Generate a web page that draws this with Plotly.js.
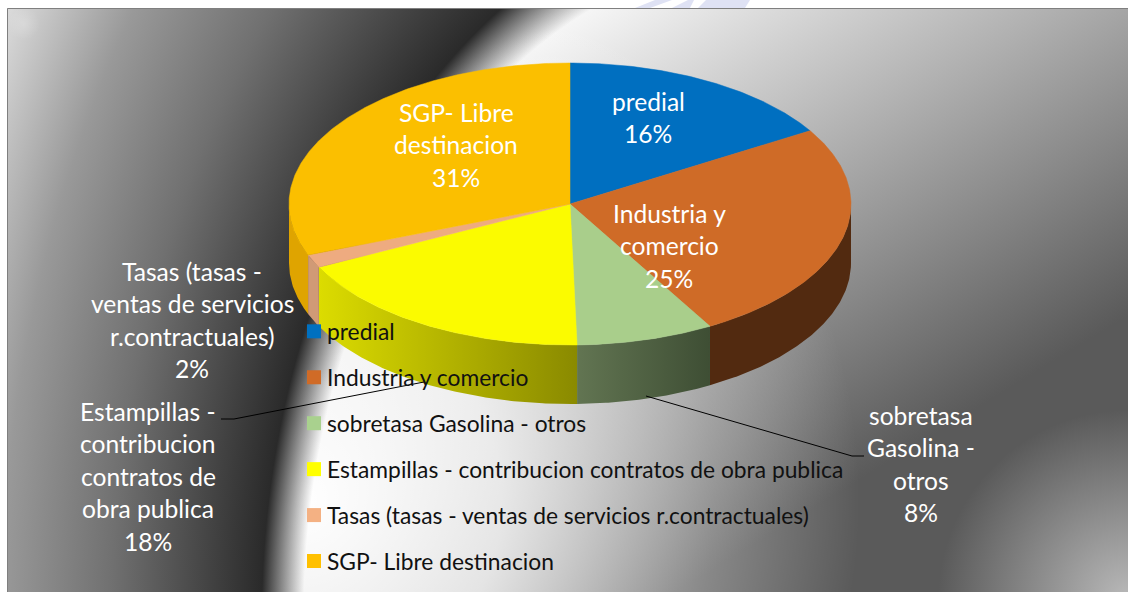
<!DOCTYPE html>
<html><head><meta charset="utf-8">
<script src="https://cdn.plot.ly/plotly-3.0.1.min.js"></script>
<style>html,body{margin:0;padding:0;background:#fff;overflow:hidden}#c{width:1128px;height:592px}</style>
</head><body><div id="c"></div>
<script>
const categories = ['predial','Industria y comercio','sobretasa Gasolina - otros','Estampillas - contribucion contratos de obra publica','Tasas (tasas - ventas de servicios r.contractuales)','SGP- Libre destinacion'];
const shares = [16.3, 25.4, 7.9, 18.0, 1.5, 30.9];
const legendColors = ['#0070C0','#D06B27','#A9D18E','#FFFF00','#F4B183','#FFC000'];
const topColors = ['#006FC0','#CF6B27','#A9CE8B','#FBFB00','#EEAB80','#FBBF00'];
const wallLeft = ['#522A10','#522A10','#627552','#DCDC00','#D09A76','#DFA400'];
const wallRight = ['#522A10','#522A10','#3E4E34','#8A8A00','#D09A76','#DFA400'];
const labelLines = [['predial'],['Industria y','comercio'],['sobretasa','Gasolina -','otros'],['Estampillas -','contribucion','contratos de','obra publica'],['Tasas (tasas -','ventas de servicios','r.contractuales)'],['SGP- Libre','destinacion']];
const labelX = [648,669,921,148,192,456];
const labelY = [101,213,415,411,271,112];
const lineStep = 32.6;
const FONT = 'Lato, Carlito, sans-serif';
const LABEL_SIZE = 24.6, LEGEND_SIZE = 22.8;
const CX=570, CY=204, RX=281, RY=141, DEPTH=59;

const pt=(a,d)=>[CX+RX*Math.sin(a*Math.PI/180), CY-RY*Math.cos(a*Math.PI/180)+d];
function arc(a0,a1,d){const n=Math.max(2,Math.ceil(Math.abs(a1-a0))*2),o=[];for(let i=0;i<=n;i++)o.push(pt(a0+(a1-a0)*i/n,d));return o;}
let acc=0; const spans=shares.map(v=>{const s=[acc*3.6,(acc+v)*3.6];acc+=v;return s;});
const traces=[];
spans.forEach((s,i)=>{
  const a0=Math.max(s[0],90),a1=Math.min(s[1],270);
  if(a1<=a0) return;
  const p=arc(a0,a1,0).concat(arc(a1,a0,DEPTH));p.push(p[0]);
  const tr={x:p.map(q=>q[0]),y:p.map(q=>q[1]),mode:'lines',fill:'toself',line:{width:0},hoverinfo:'skip',showlegend:false,name:categories[i]+' (lado)'};
  if(wallLeft[i]===wallRight[i]) tr.fillcolor=wallLeft[i];
  else {tr.fillcolor=wallLeft[i];tr.fillgradient={type:'horizontal',colorscale:[[0,wallLeft[i]],[1,wallRight[i]]]};}
  traces.push(tr);
});
spans.forEach((s,i)=>{
  const p=[[CX,CY]].concat(arc(s[0],s[1],0));p.push([CX,CY]);
  traces.push({x:p.map(q=>q[0]),y:p.map(q=>q[1]),mode:'lines',fill:'toself',fillcolor:topColors[i],line:{width:0.5,color:topColors[i]},hoverinfo:'text',text:categories[i],showlegend:false,name:categories[i]});
});
categories.forEach((c,i)=>traces.push({x:[null],y:[null],mode:'markers',name:c,legendgroup:c,marker:{symbol:'square',size:14,color:legendColors[i]},hoverinfo:'skip'}));

const annotations=[];
labelLines.forEach((lines,i)=>{
  lines.concat([Math.round(shares[i])+'%']).forEach((t,j)=>annotations.push({x:labelX[i],y:labelY[i]+j*lineStep,xref:'x',yref:'y',text:t,showarrow:false,xanchor:'center',yanchor:'middle',font:{family:FONT,size:LABEL_SIZE,color:'#fff'}}));
});

const bg=`<svg xmlns="http://www.w3.org/2000/svg" width="1128" height="592" viewBox="0 0 1128 592">
<defs>
<linearGradient id="b" gradientUnits="userSpaceOnUse" x1="723" y1="-111" x2="1023" y2="380"><stop offset="0" stop-color="#fff"/><stop offset="1" stop-color="#5a5a5a"/></linearGradient>
<radialGradient id="w" gradientUnits="userSpaceOnUse" cx="300" cy="500" r="560"><stop offset="0" stop-color="#fff" stop-opacity="1"/><stop offset=".36" stop-color="#fff" stop-opacity=".8"/><stop offset=".54" stop-color="#fff" stop-opacity=".55"/><stop offset=".74" stop-color="#fff" stop-opacity=".28"/><stop offset="1" stop-color="#fff" stop-opacity="0"/></radialGradient>
<radialGradient id="s" gradientUnits="userSpaceOnUse" cx="1128" cy="600" r="190"><stop offset="0" stop-color="#c4c4c4" stop-opacity=".9"/><stop offset="1" stop-color="#c4c4c4" stop-opacity="0"/></radialGradient>
<radialGradient id="k" gradientUnits="userSpaceOnUse" cx="24" cy="24" r="16"><stop offset="0" stop-color="#fff" stop-opacity=".2"/><stop offset="1" stop-color="#fff" stop-opacity="0"/></radialGradient>
<radialGradient id="d" gradientUnits="userSpaceOnUse" cx="0" cy="0" r="1.8" gradientTransform="translate(770 620) scale(508 720)">
<stop offset=".51" stop-color="#2a2a2a" stop-opacity="0"/><stop offset=".556" stop-color="#2a2a2a" stop-opacity="1"/><stop offset=".72" stop-color="#707070"/><stop offset=".84" stop-color="#999"/><stop offset=".96" stop-color="#dcdcdc"/><stop offset="1" stop-color="#e4e4e4"/></radialGradient>
</defs>
<rect width="1128" height="592" fill="#fff"/>
<path d="M635 8 L655 0 H672 L650 8Z M672 8 L688 0 H694 L690 8Z M698 8 L706 0 H750 L745 8Z" fill="#dfe2f4"/>
<rect x="7" y="8" width="1121" height="584" fill="url(#b)"/>
<rect x="7" y="8" width="1121" height="584" fill="url(#w)"/>
<rect x="7" y="8" width="1121" height="584" fill="url(#s)"/>
<rect x="7" y="8" width="763" height="584" fill="url(#d)"/>
<rect x="8" y="9" width="40" height="40" fill="url(#k)"/>
<path d="M7.5 592V8.5H1128" fill="none" stroke="#7f7f7f" stroke-width="1"/>
</svg>`;

const layout={
  width:1128,height:592,margin:{l:0,r:0,t:0,b:0,autoexpand:false},paper_bgcolor:'#fff',plot_bgcolor:'rgba(0,0,0,0)',
  xaxis:{range:[0,1128],visible:false,fixedrange:true},
  yaxis:{range:[592,0],visible:false,fixedrange:true},
  images:[{source:'data:image/svg+xml;base64,'+btoa(bg),xref:'paper',yref:'paper',x:0,y:1,sizex:1,sizey:1,sizing:'stretch',xanchor:'left',yanchor:'top',layer:'below'}],
  legend:{x:287/1128,y:1-310/592,xanchor:'left',yanchor:'top',bgcolor:'rgba(0,0,0,0)',borderwidth:0,tracegroupgap:13.3,font:{family:FONT,size:LEGEND_SIZE,color:'#111'},traceorder:'grouped'},
  shapes:[
    {type:'path',path:'M221 419 L234 419 L424 382',line:{color:'#000',width:1}},
    {type:'path',path:'M864 456 L852 456 L646 396',line:{color:'#000',width:1}}
  ],
  annotations:annotations,
  hovermode:'closest',showlegend:true
};
const gd=document.getElementById('c');
Plotly.newPlot(gd,traces,layout,{displayModeBar:false,responsive:false}).then(()=>{
  gd.querySelectorAll('.legend .legendpoints').forEach(g=>g.setAttribute('transform','translate(7,0)'));
});
</script></body></html>
